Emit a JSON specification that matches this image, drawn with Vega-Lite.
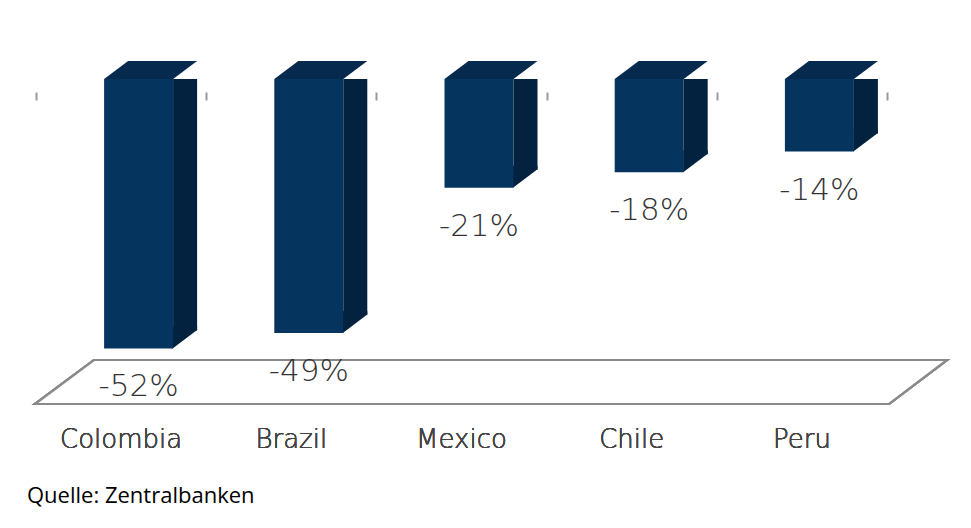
{
  "$schema": "https://vega.github.io/schema/vega-lite/v6.json",
  "width": 851,
  "height": 342,
  "autosize": "none",
  "padding": {"left": 36, "top": 79, "right": 84, "bottom": 107},
  "background": "#ffffff",
  "config": {"view": {"stroke": null}},
  "title": {
    "text": "Quelle: Zentralbanken",
    "orient": "bottom",
    "anchor": "start",
    "frame": "group",
    "dx": -9,
    "offset": 34,
    "font": "Open Sans",
    "fontSize": 22,
    "fontWeight": "normal",
    "color": "#000000"
  },
  "data": {
    "values": [
      {"country": "Colombia", "change": -52, "label": "-52%"},
      {"country": "Brazil", "change": -49, "label": "-49%"},
      {"country": "Mexico", "change": -21, "label": "-21%"},
      {"country": "Chile", "change": -18, "label": "-18%"},
      {"country": "Peru", "change": -14, "label": "-14%"}
    ]
  },
  "encoding": {
    "x": {
      "field": "country",
      "type": "nominal",
      "scale": {
        "type": "band",
        "domain": ["Colombia", "Brazil", "Mexico", "Chile", "Peru"],
        "paddingInner": 0,
        "paddingOuter": 0
      },
      "axis": {
        "orient": "bottom",
        "title": null,
        "domain": false,
        "ticks": false,
        "tickSize": 0,
        "labelAngle": 0,
        "labelOverlap": false,
        "labelPadding": 26,
        "labelBaseline": "alphabetic",
        "labelFont": "DejaVu Sans",
        "labelFontSize": 26,
        "labelFontWeight": 200,
        "labelColor": "#444444"
      }
    },
    "y": {
      "field": "change",
      "type": "quantitative",
      "scale": {"domain": [-66, 0], "nice": false, "zero": false},
      "axis": null
    }
  },
  "layer": [
    {
      "mark": {
        "type": "point",
        "shape": "M-426.5,325 L427.5,325 L485.5,281 L-367.5,281 Z",
        "size": 4,
        "filled": true,
        "fill": "#ffffff",
        "stroke": "#8a8a8a",
        "strokeWidth": 2.2,
        "opacity": 1
      },
      "encoding": {
        "x": {"datum": "Mexico", "type": "nominal"},
        "y": {"datum": 0, "type": "quantitative"}
      }
    },
    {
      "mark": {"type": "bar", "width": 24, "xOffset": 64, "yOffset": -18, "color": "#03223f"},
      "encoding": {"y2": {"datum": 0}}
    },
    {
      "mark": {
        "type": "point",
        "shape": "M51.5,-22 L51.5,0 L76,-18.5 L76,-22 Z",
        "size": 4,
        "filled": true,
        "color": "#03223f",
        "opacity": 1
      }
    },
    {
      "mark": {
        "type": "point",
        "shape": "M-17,0 L7,-18 L76,-18 L52,0 Z",
        "size": 4,
        "filled": true,
        "color": "#052a4e",
        "opacity": 1
      },
      "encoding": {"y": {"datum": 0, "type": "quantitative"}}
    },
    {
      "mark": {"type": "bar", "width": 69, "xOffset": 17.5, "color": "#05345f"},
      "encoding": {
        "x": {
          "field": "country",
          "type": "nominal",
          "axis": {
            "orient": "top",
            "title": null,
            "domain": false,
            "labels": false,
            "ticks": true,
            "tickBand": "extent",
            "tickSize": 8,
            "tickWidth": 2,
            "tickColor": "#9a9a9a",
            "offset": -21
          }
        },
        "y2": {"datum": 0}
      }
    },
    {
      "mark": {
        "type": "text",
        "baseline": "alphabetic",
        "dy": 48,
        "xOffset": 17.5,
        "font": "DejaVu Sans",
        "fontSize": 31,
        "fontWeight": 200,
        "color": "#333333"
      },
      "encoding": {"text": {"field": "label"}}
    }
  ]
}
